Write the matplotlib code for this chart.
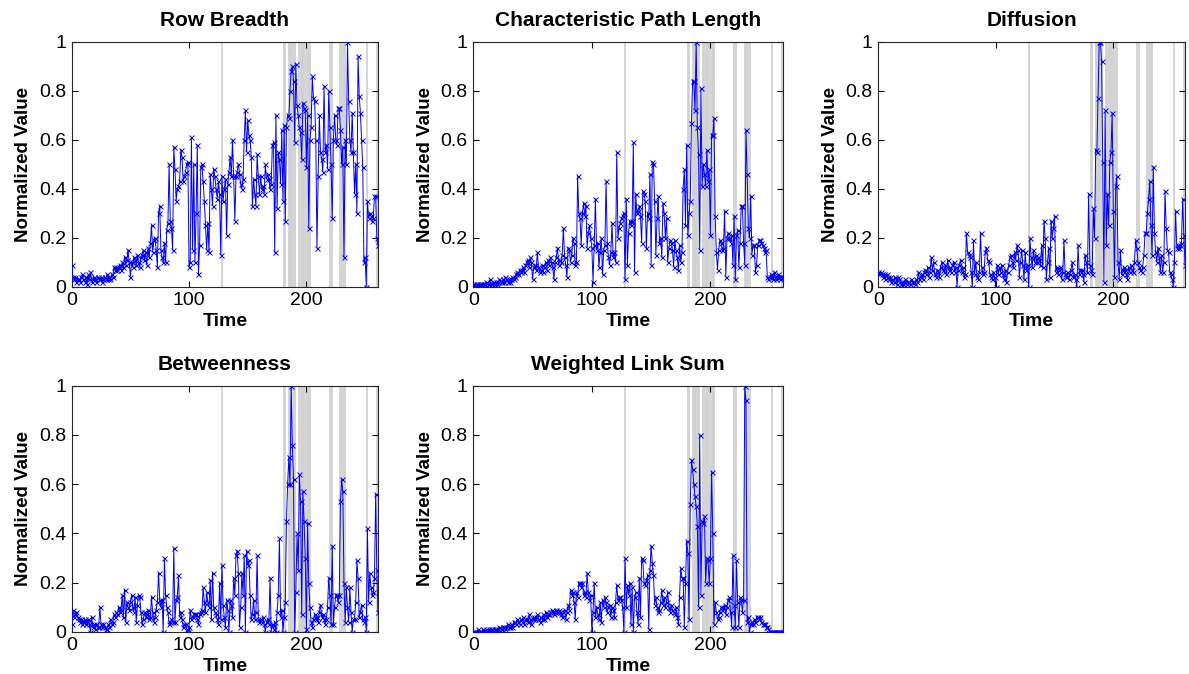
import numpy as np
import matplotlib
matplotlib.use("Agg")
import matplotlib.pyplot as plt

plt.rcParams['font.family'] = ['Liberation Sans', 'DejaVu Sans']

titles = ["Row Breadth", "Characteristic Path Length", "Diffusion",
          "Betweenness", "Weighted Link Sum"]
xlabel_text = "Time"
ylabel_text = "Normalized Value"
yticks = [0, 0.2, 0.4, 0.6, 0.8, 1]
ytick_labels = ["0", "0.2", "0.4", "0.6", "0.8", "1"]
xticks = [0, 100, 200]

event_times = [128, 181, 182, 185, 186, 187, 188, 189, 190, 194, 195, 196, 197,
               198, 200, 201, 202, 203, 220, 222, 229, 230, 232, 233, 252, 260]

row_breadth = [
    0.09, 0.04, 0.03, 0.04, 0.02, 0.03, 0.03, 0.02, 0.04, 0.05,
    0.03, 0.02, 0.04, 0.01, 0.05, 0.03, 0.06, 0.02, 0.03, 0.04,
    0.03, 0.02, 0.04, 0.03, 0.03, 0.04, 0.02, 0.03, 0.04, 0.03,
    0.05, 0.03, 0.04, 0.03, 0.05, 0.04, 0.08, 0.07, 0.08, 0.07,
    0.08, 0.09, 0.07, 0.10, 0.08, 0.12, 0.09, 0.11, 0.15, 0.10,
    0.04, 0.10, 0.08, 0.12, 0.11, 0.09, 0.13, 0.10, 0.08, 0.12,
    0.13, 0.15, 0.11, 0.14, 0.09, 0.16, 0.12, 0.18, 0.25, 0.14,
    0.19, 0.20, 0.15, 0.08, 0.30, 0.33, 0.15, 0.12, 0.10, 0.18,
    0.10, 0.23, 0.26, 0.50, 0.27, 0.24, 0.15, 0.57, 0.48, 0.35,
    0.40, 0.41, 0.43, 0.56, 0.53, 0.43, 0.45, 0.47, 0.50, 0.51,
    0.08, 0.10, 0.61, 0.15, 0.50, 0.10, 0.30, 0.58, 0.05, 0.17,
    0.49, 0.50, 0.43, 0.35, 0.25, 0.15, 0.26, 0.14, 0.46, 0.40,
    0.33, 0.48, 0.45, 0.40, 0.36, 0.43, 0.38, 0.13, 0.45, 0.35,
    0.40, 0.44, 0.21, 0.42, 0.47, 0.53, 0.45, 0.60, 0.45, 0.27,
    0.45, 0.47, 0.50, 0.46, 0.42, 0.40, 0.44, 0.60, 0.72, 0.55,
    0.68, 0.62, 0.60, 0.53, 0.33, 0.44, 0.38, 0.33, 0.54, 0.45,
    0.38, 0.45, 0.40, 0.41, 0.38, 0.50, 0.44, 0.46, 0.44, 0.40,
    0.42, 0.58, 0.59, 0.14, 0.70, 0.32, 0.55, 0.52, 0.42, 0.64,
    0.35, 0.66, 0.27, 0.65, 0.70, 0.69, 0.80, 0.88, 0.90, 0.84,
    0.59, 0.91, 0.74, 0.70, 0.65, 0.63, 0.52, 0.75, 0.73, 0.72,
    0.49, 0.70, 0.24, 0.60, 0.65, 0.86, 0.77, 0.76, 0.60, 0.16,
    0.45, 0.70, 0.55, 0.52, 0.47, 0.82, 0.55, 0.58, 0.48, 0.80,
    0.65, 0.50, 0.28, 0.60, 0.70, 0.60, 0.58, 0.73, 0.73, 0.64,
    0.50, 0.57, 0.12, 0.60, 0.50, 1.00, 0.76, 0.60, 0.55, 0.71,
    0.55, 0.38, 0.50, 0.30, 0.94, 0.78, 0.71, 0.60, 0.49, 0.10,
    0.12, 0.00, 0.35, 0.28, 0.30, 0.29, 0.27, 0.28, 0.37, 0.37,
    0.20, 0.17]

char_path_length = [
    0.01, 0.00, 0.01, 0.01, 0.00, 0.01, 0.01, 0.01, 0.00, 0.01,
    0.01, 0.02, 0.01, 0.01, 0.03, 0.01, 0.01, 0.02, 0.01, 0.02,
    0.01, 0.02, 0.03, 0.02, 0.02, 0.03, 0.02, 0.04, 0.03, 0.02,
    0.03, 0.02, 0.03, 0.04, 0.03, 0.04, 0.05, 0.06, 0.05, 0.07,
    0.06, 0.07, 0.08, 0.06, 0.09, 0.10, 0.11, 0.08, 0.12, 0.10,
    0.03, 0.08, 0.09, 0.07, 0.14, 0.08, 0.06, 0.07, 0.09, 0.06,
    0.08, 0.10, 0.07, 0.11, 0.09, 0.12, 0.10, 0.08, 0.03, 0.10,
    0.12, 0.16, 0.09, 0.11, 0.10, 0.13, 0.24, 0.12, 0.09, 0.04,
    0.16, 0.15, 0.10, 0.13, 0.20, 0.18, 0.09, 0.10, 0.45, 0.30,
    0.28, 0.17, 0.30, 0.34, 0.29, 0.33, 0.16, 0.22, 0.25, 0.20,
    0.16, 0.02, 0.17, 0.36, 0.15, 0.18, 0.08, 0.14, 0.20, 0.05,
    0.15, 0.17, 0.43, 0.18, 0.12, 0.09, 0.14, 0.26, 0.12, 0.14,
    0.10, 0.55, 0.20, 0.24, 0.26, 0.28, 0.29, 0.30, 0.03, 0.36,
    0.09, 0.22, 0.27, 0.25, 0.27, 0.59, 0.06, 0.38, 0.30, 0.31,
    0.33, 0.29, 0.18, 0.39, 0.38, 0.35, 0.16, 0.30, 0.28, 0.46,
    0.09, 0.51, 0.50, 0.35, 0.13, 0.28, 0.37, 0.18, 0.20, 0.12,
    0.34, 0.30, 0.20, 0.28, 0.10, 0.16, 0.19, 0.18, 0.15, 0.08,
    0.19, 0.15, 0.12, 0.07, 0.17, 0.10, 0.14, 0.40, 0.48, 0.25,
    0.58, 0.21, 0.30, 0.35, 0.67, 0.84, 0.84, 0.72, 1.00, 0.65,
    0.54, 0.15, 0.81, 0.41, 0.50, 0.46, 0.41, 0.56, 0.43, 0.48,
    0.21, 0.62, 0.62, 0.69, 0.29, 0.14, 0.07, 0.15, 0.19, 0.18,
    0.15, 0.16, 0.31, 0.04, 0.20, 0.22, 0.20, 0.18, 0.21, 0.09,
    0.29, 0.03, 0.21, 0.23, 0.08, 0.18, 0.33, 0.33, 0.18, 0.09,
    0.64, 0.46, 0.24, 0.20, 0.37, 0.13, 0.17, 0.17, 0.06, 0.09,
    0.17, 0.19, 0.19, 0.18, 0.17, 0.16, 0.14, 0.15, 0.04, 0.03,
    0.04, 0.05, 0.04, 0.03, 0.06, 0.03, 0.04, 0.05, 0.04, 0.03,
    0.04, 0.04]

diffusion = [
    0.06, 0.05, 0.06, 0.05, 0.04, 0.05, 0.03, 0.05, 0.04, 0.03,
    0.04, 0.02, 0.03, 0.02, 0.04, 0.03, 0.01, 0.04, 0.03, 0.01,
    0.02, 0.01, 0.02, 0.03, 0.01, 0.02, 0.02, 0.01, 0.03, 0.02,
    0.02, 0.01, 0.03, 0.02, 0.06, 0.03, 0.04, 0.05, 0.03, 0.06,
    0.07, 0.05, 0.08, 0.04, 0.06, 0.12, 0.07, 0.10, 0.05, 0.04,
    0.07, 0.06, 0.04, 0.08, 0.10, 0.07, 0.06, 0.09, 0.05, 0.11,
    0.07, 0.08, 0.06, 0.09, 0.10, 0.06, 0.08, 0.00, 0.07, 0.09,
    0.11, 0.06, 0.08, 0.04, 0.05, 0.22, 0.14, 0.13, 0.12, 0.06,
    0.00, 0.19, 0.05, 0.10, 0.04, 0.03, 0.06, 0.22, 0.08, 0.05,
    0.06, 0.14, 0.16, 0.11, 0.10, 0.05, 0.04, 0.03, 0.06, 0.04,
    0.00, 0.09, 0.05, 0.08, 0.06, 0.09, 0.05, 0.03, 0.07, 0.02,
    0.06, 0.09, 0.12, 0.13, 0.10, 0.08, 0.14, 0.11, 0.17, 0.15,
    0.04, 0.10, 0.15, 0.09, 0.03, 0.14, 0.07, 0.09, 0.00, 0.20,
    0.12, 0.08, 0.15, 0.10, 0.13, 0.10, 0.12, 0.11, 0.09, 0.17,
    0.08, 0.27, 0.20, 0.03, 0.10, 0.16, 0.04, 0.27, 0.20, 0.24,
    0.29, 0.06, 0.08, 0.05, 0.07, 0.08, 0.03, 0.06, 0.19, 0.05,
    0.04, 0.06, 0.03, 0.05, 0.07, 0.10, 0.04, 0.05, 0.03, 0.00,
    0.17, 0.05, 0.07, 0.07, 0.05, 0.02, 0.13, 0.10, 0.06, 0.38,
    0.09, 0.07, 0.05, 0.32, 0.20, 0.56, 0.55, 0.77, 1.00, 1.00,
    0.92, 0.51, 0.02, 0.72, 0.17, 0.38, 0.25, 0.51, 0.55, 0.71,
    0.31, 0.04, 0.41, 0.45, 0.10, 0.03, 0.15, 0.05, 0.07, 0.08,
    0.07, 0.05, 0.03, 0.08, 0.06, 0.09, 0.07, 0.06, 0.10, 0.19,
    0.16, 0.10, 0.08, 0.07, 0.06, 0.08, 0.13, 0.22, 0.22, 0.30,
    0.36, 0.43, 0.25, 0.13, 0.49, 0.22, 0.14, 0.10, 0.16, 0.12,
    0.06, 0.13, 0.06, 0.10, 0.39, 0.24, 0.15, 0.14, 0.06, 0.05,
    0.03, 0.00, 0.10, 0.31, 0.16, 0.17, 0.16, 0.17, 0.18, 0.36,
    0.21, 0.09]

betweenness = [
    0.03, 0.09, 0.06, 0.07, 0.08, 0.06, 0.05, 0.04, 0.05, 0.03,
    0.04, 0.05, 0.03, 0.04, 0.05, 0.03, 0.00, 0.06, 0.02, 0.03,
    0.01, 0.03, 0.02, 0.02, 0.10, 0.03, 0.02, 0.03, 0.02, 0.01,
    0.01, 0.03, 0.02, 0.05, 0.03, 0.04, 0.07, 0.06, 0.08, 0.07,
    0.10, 0.08, 0.09, 0.15, 0.06, 0.17, 0.04, 0.12, 0.10, 0.09,
    0.12, 0.15, 0.10, 0.08, 0.14, 0.04, 0.11, 0.15, 0.14, 0.08,
    0.03, 0.05, 0.08, 0.06, 0.07, 0.09, 0.05, 0.06, 0.14, 0.08,
    0.04, 0.06, 0.09, 0.12, 0.24, 0.13, 0.10, 0.13, 0.00, 0.30,
    0.15, 0.10, 0.08, 0.03, 0.04, 0.05, 0.04, 0.34, 0.04, 0.13,
    0.14, 0.23, 0.06, 0.08, 0.05, 0.02, 0.03, 0.03, 0.01, 0.00,
    0.02, 0.09, 0.05, 0.06, 0.07, 0.07, 0.07, 0.05, 0.03, 0.07,
    0.08, 0.09, 0.18, 0.12, 0.08, 0.16, 0.12, 0.10, 0.21, 0.05,
    0.24, 0.10, 0.08, 0.07, 0.05, 0.03, 0.20, 0.05, 0.27, 0.11,
    0.06, 0.02, 0.13, 0.09, 0.00, 0.13, 0.11, 0.06, 0.22, 0.15,
    0.31, 0.33, 0.24, 0.02, 0.10, 0.24, 0.15, 0.31, 0.00, 0.33,
    0.27, 0.29, 0.15, 0.05, 0.07, 0.13, 0.05, 0.08, 0.31, 0.05,
    0.04, 0.05, 0.04, 0.06, 0.03, 0.00, 0.04, 0.05, 0.03, 0.22,
    0.00, 0.03, 0.01, 0.04, 0.00, 0.08, 0.15, 0.38, 0.06, 0.09,
    0.00, 0.06, 0.12, 0.45, 0.60, 0.71, 0.60, 1.00, 0.76, 0.62,
    0.00, 0.16, 0.40, 0.25, 0.64, 0.53, 0.07, 0.57, 0.45, 0.30,
    0.01, 0.44, 0.20, 0.10, 0.04, 0.02, 0.05, 0.07, 0.05, 0.06,
    0.04, 0.08, 0.11, 0.06, 0.07, 0.05, 0.03, 0.05, 0.10, 0.22,
    0.15, 0.03, 0.35, 0.03, 0.10, 0.15, 0.15, 0.12, 0.15, 0.53,
    0.62, 0.57, 0.20, 0.04, 0.18, 0.10, 0.04, 0.18, 0.08, 0.00,
    0.05, 0.05, 0.12, 0.29, 0.22, 0.06, 0.08, 0.11, 0.05, 0.04,
    0.06, 0.00, 0.42, 0.12, 0.24, 0.18, 0.15, 0.16, 0.22, 0.56,
    0.25, 0.08]

weighted_link_sum = [
    0.00, 0.00, 0.00, 0.00, 0.01, 0.00, 0.00, 0.00, 0.01, 0.00,
    0.00, 0.01, 0.00, 0.01, 0.00, 0.01, 0.01, 0.00, 0.01, 0.01,
    0.00, 0.01, 0.02, 0.01, 0.01, 0.02, 0.02, 0.01, 0.02, 0.03,
    0.02, 0.02, 0.03, 0.02, 0.04, 0.04, 0.03, 0.05, 0.04, 0.03,
    0.05, 0.04, 0.06, 0.03, 0.05, 0.05, 0.04, 0.07, 0.05, 0.03,
    0.05, 0.06, 0.05, 0.06, 0.07, 0.05, 0.04, 0.06, 0.05, 0.07,
    0.05, 0.08, 0.06, 0.07, 0.07, 0.08, 0.09, 0.08, 0.07, 0.08,
    0.09, 0.08, 0.09, 0.08, 0.07, 0.06, 0.08, 0.09, 0.05, 0.08,
    0.11, 0.09, 0.17, 0.15, 0.16, 0.12, 0.05, 0.16, 0.14, 0.20,
    0.20, 0.18, 0.20, 0.15, 0.16, 0.14, 0.24, 0.16, 0.13, 0.15,
    0.00, 0.08, 0.20, 0.06, 0.10, 0.07, 0.05, 0.12, 0.04, 0.13,
    0.10, 0.14, 0.12, 0.08, 0.10, 0.11, 0.06, 0.10, 0.09, 0.06,
    0.12, 0.19, 0.13, 0.14, 0.14, 0.13, 0.10, 0.00, 0.30, 0.10,
    0.19, 0.15, 0.20, 0.03, 0.18, 0.00, 0.14, 0.16, 0.08, 0.03,
    0.22, 0.06, 0.30, 0.29, 0.20, 0.19, 0.21, 0.23, 0.01, 0.25,
    0.35, 0.28, 0.23, 0.11, 0.14, 0.10, 0.08, 0.09, 0.12, 0.17,
    0.11, 0.14, 0.10, 0.12, 0.16, 0.10, 0.08, 0.11, 0.09, 0.08,
    0.07, 0.10, 0.06, 0.03, 0.14, 0.26, 0.22, 0.22, 0.02, 0.20,
    0.37, 0.32, 0.05, 0.52, 0.70, 0.66, 0.60, 0.55, 0.51, 0.43,
    0.10, 0.80, 0.15, 0.45, 0.44, 0.47, 0.20, 0.30, 0.29, 0.20,
    0.30, 0.65, 0.40, 0.03, 0.12, 0.08, 0.05, 0.06, 0.08, 0.10,
    0.09, 0.10, 0.11, 0.07, 0.10, 0.13, 0.14, 0.08, 0.02, 0.31,
    0.11, 0.02, 0.29, 0.12, 0.02, 0.14, 0.13, 0.08, 0.13, 1.00,
    0.94, 0.04, 0.06, 0.00, 0.03, 0.04, 0.03, 0.05, 0.04, 0.06,
    0.06, 0.05, 0.06, 0.04, 0.03, 0.03, 0.03, 0.02, 0.02, 0.01,
    0.00, 0.00, 0.00, 0.00, 0.00, 0.00, 0.00, 0.00, 0.00, 0.00,
    0.00, 0.00]

series = [row_breadth, char_path_length, diffusion, betweenness, weighted_link_sum]

W, H = 1189, 674
fig = plt.figure(figsize=(W / 100, H / 100), dpi=100)

# axes boxes in pixels: (left, top, right, bottom)
boxes = [
    (71.7, 41.7, 378.0, 286.7),
    (473.3, 41.7, 782.7, 286.7),
    (878.3, 41.7, 1185.0, 286.7),
    (71.7, 385.7, 378.0, 631.7),
    (473.3, 385.7, 782.7, 631.7),
]

for title, ys, (l, t, r, b) in zip(titles, series, boxes):
    ax = fig.add_axes([l / W, 1 - b / H, (r - l) / W, (b - t) / H])
    ys = np.asarray(ys)
    xs = np.arange(len(ys))
    for et in event_times:
        ax.axvline(et, color=(0.82, 0.82, 0.82), lw=1.3, zorder=1)
    ax.plot(xs, ys, color=(0, 0, 1), lw=0.7, marker='x', markersize=3.6,
            markeredgewidth=0.7, zorder=3)
    ax.set_xlim(0, len(ys) - 1)
    ax.set_ylim(0, 1)
    ax.set_yticks(yticks)
    ax.set_yticklabels(ytick_labels)
    ax.set_xticks(xticks)
    ax.tick_params(direction='in', top=True, right=True, length=4,
                   width=0.8, labelsize=14, pad=4, colors='black')
    for sp in ax.spines.values():
        sp.set_linewidth(0.8)
        sp.set_color('#262626')
    ax.set_title(title, fontsize=15, fontweight='bold', pad=11)
    ax.set_xlabel(xlabel_text, fontsize=14, fontweight='bold', labelpad=3)
    ax.set_ylabel(ylabel_text, fontsize=13.5, fontweight='bold', labelpad=5)

fig.savefig("out.png", dpi=100)
